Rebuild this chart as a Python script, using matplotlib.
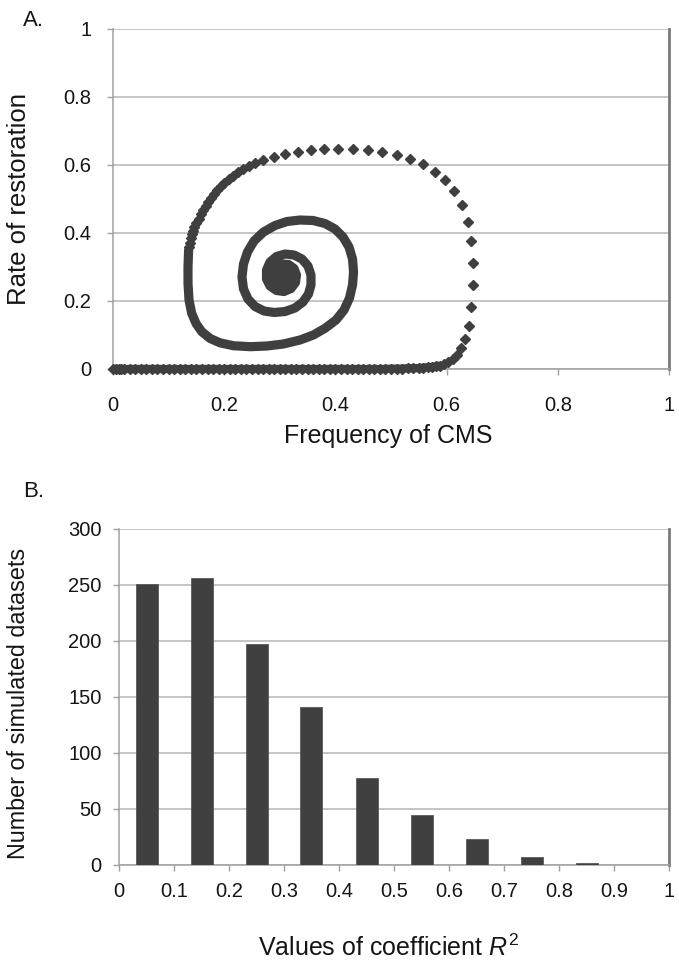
import matplotlib
matplotlib.use("Agg")
import matplotlib.pyplot as plt

plt.rcParams['font.family'] = ['Liberation Sans', 'DejaVu Sans']
plt.rcParams['mathtext.fontset'] = 'custom'
plt.rcParams['mathtext.rm'] = 'Liberation Sans'
plt.rcParams['mathtext.it'] = 'Liberation Sans:italic'

# ---------------- Panel A data (trajectory) ----------------
# dense start along the x axis
bottom_x = [0.000, 0.005, 0.010, 0.015, 0.020, 0.030, 0.040, 0.050, 0.060, 0.070,
            0.080, 0.090, 0.100, 0.110, 0.120, 0.130, 0.140, 0.150, 0.160, 0.170,
            0.180, 0.190, 0.200, 0.210, 0.220, 0.230, 0.240, 0.250, 0.260, 0.270,
            0.280, 0.290, 0.300, 0.310, 0.320, 0.330, 0.340, 0.350, 0.360, 0.370,
            0.380, 0.390, 0.400, 0.410, 0.420, 0.430, 0.440, 0.450, 0.460, 0.470,
            0.480, 0.490, 0.500, 0.510, 0.520, 0.530, 0.540, 0.550, 0.558, 0.566,
            0.574, 0.581, 0.588]
bottom_y = [0.000, 0.000, 0.000, 0.000, 0.000, 0.000, 0.000, 0.000, 0.000, 0.000,
            0.000, 0.000, 0.000, 0.000, 0.000, 0.000, 0.000, 0.000, 0.000, 0.000,
            0.000, 0.000, 0.000, 0.000, 0.000, 0.000, 0.000, 0.000, 0.000, 0.000,
            0.000, 0.000, 0.000, 0.000, 0.000, 0.000, 0.000, 0.000, 0.000, 0.000,
            0.000, 0.000, 0.000, 0.000, 0.000, 0.000, 0.000, 0.000, 0.000, 0.000,
            0.000, 0.000, 0.001, 0.001, 0.001, 0.002, 0.002, 0.003, 0.004, 0.005,
            0.006, 0.008, 0.010]

# sparse outer arc
arc_x = [0.595, 0.6025, 0.611, 0.618, 0.625, 0.633, 0.640, 0.644, 0.647, 0.647,
         0.644, 0.639, 0.627, 0.614, 0.597, 0.579, 0.558, 0.534, 0.510, 0.484,
         0.459, 0.432, 0.405, 0.380, 0.356, 0.332, 0.310, 0.290, 0.270, 0.255,
         0.245, 0.234, 0.225, 0.216, 0.209, 0.200, 0.194, 0.187, 0.182, 0.176,
         0.171, 0.167, 0.162, 0.158, 0.154, 0.149, 0.146, 0.1435, 0.1415, 0.1395,
         0.138, 0.137]
arc_y = [0.015, 0.021, 0.0285, 0.041, 0.061, 0.088, 0.127, 0.182, 0.247, 0.313,
         0.377, 0.433, 0.482, 0.524, 0.556, 0.580, 0.603, 0.617, 0.629, 0.638,
         0.643, 0.647, 0.648, 0.647, 0.643, 0.638, 0.632, 0.623, 0.614, 0.606,
         0.597, 0.589, 0.579, 0.569, 0.559, 0.548, 0.537, 0.527, 0.515, 0.504,
         0.492, 0.480, 0.468, 0.455, 0.442, 0.430, 0.419, 0.407, 0.396, 0.384,
         0.372, 0.360]

# dense inner spiral
spiral_x = [0.136, 0.1349, 0.1349, 0.1367, 0.1415, 0.1493, 0.1595, 0.1745, 0.1924, 0.2164,
            0.2464, 0.2764, 0.3063, 0.3363, 0.3603, 0.3813, 0.4011, 0.4155, 0.4254, 0.4308,
            0.4326, 0.4308, 0.4245, 0.4137, 0.3993, 0.3813, 0.3597, 0.3363, 0.3129, 0.2914,
            0.2707, 0.2536, 0.2419, 0.2347, 0.2320, 0.2347, 0.2428, 0.2554, 0.2716, 0.2896,
            0.3094, 0.3273, 0.3417, 0.3516, 0.3561, 0.3561, 0.3507, 0.3399, 0.3255, 0.3094,
            0.2941, 0.2824, 0.2761, 0.2761, 0.2824, 0.2941, 0.3076, 0.3201, 0.3282, 0.3300,
            0.3255, 0.3157, 0.3040, 0.2941, 0.2896, 0.2923, 0.3022, 0.3129, 0.3174, 0.3129,
            0.3031, 0.2977, 0.3040, 0.3094]
spiral_y = [0.350, 0.301, 0.252, 0.203, 0.164, 0.134, 0.110, 0.090, 0.077, 0.0685,
            0.0656, 0.0676, 0.0735, 0.0853, 0.1000, 0.1197, 0.1441, 0.1735, 0.2088, 0.2471,
            0.2853, 0.3235, 0.3588, 0.3882, 0.4118, 0.4279, 0.4368, 0.4382, 0.4338, 0.4221,
            0.4029, 0.3765, 0.3441, 0.3088, 0.2706, 0.2353, 0.2059, 0.1838, 0.1706, 0.1662,
            0.1691, 0.1794, 0.1971, 0.2206, 0.2471, 0.2765, 0.3029, 0.3235, 0.3353, 0.3382,
            0.3309, 0.3147, 0.2912, 0.2647, 0.2441, 0.2309, 0.2279, 0.2368, 0.2544, 0.2765,
            0.2956, 0.3074, 0.3088, 0.2985, 0.2809, 0.2618, 0.2515, 0.2559, 0.2721, 0.2882,
            0.2912, 0.2765, 0.2647, 0.2735]

ticks_a = [0, 0.2, 0.4, 0.6, 0.8, 1]
ticklabels_a = ['0', '0.2', '0.4', '0.6', '0.8', '1']

# ---------------- Panel B data ----------------
r2_bins = [0.05, 0.15, 0.25, 0.35, 0.45, 0.55, 0.65, 0.75, 0.85, 0.95]
counts = [251, 256, 197, 141, 78, 45, 23, 7, 1.5, 0]
xticks_b = [0, 0.1, 0.2, 0.3, 0.4, 0.5, 0.6, 0.7, 0.8, 0.9, 1]
xticklabels_b = ['0', '0.1', '0.2', '0.3', '0.4', '0.5', '0.6', '0.7', '0.8', '0.9', '1']
yticks_b = [0, 50, 100, 150, 200, 250, 300]

MARK = '#3f3f3f'
GRID = '#b5b5b5'
AX = '#a0a0a0'
RIGHT = '#7a7a7a'
TXT = '#151515'

fig = plt.figure(figsize=(6.79, 9.6), dpi=100)

def style(ax):
    ax.spines['top'].set_visible(False)
    ax.spines['left'].set_color(AX)
    ax.spines['bottom'].set_color(AX)
    ax.spines['left'].set_linewidth(1.1)
    ax.spines['bottom'].set_linewidth(1.1)
    ax.spines['right'].set_color(RIGHT)
    ax.spines['right'].set_linewidth(2.0)
    ax.yaxis.grid(True, color=GRID, linewidth=1.1)
    ax.set_axisbelow(True)
    ax.tick_params(axis='both', direction='out', length=4.5, width=1.0, color=AX,
                   labelsize=14.5, labelcolor=TXT)

# ---- Panel A ----
ax1 = fig.add_axes([113/679, 1-369/960, 556/679, 340/960])
style(ax1)
ax1.plot(bottom_x, bottom_y, '-', color=MARK, lw=6.0, marker='D', ms=5.0,
         mec=MARK, mfc=MARK, solid_capstyle='butt', clip_on=False, zorder=3)
ax1.plot(arc_x, arc_y, linestyle='none', marker='D', ms=5.0, color=MARK, zorder=3)
ax1.plot(spiral_x, spiral_y, '-', color=MARK, lw=6.6, solid_joinstyle='round',
         solid_capstyle='round', zorder=3)
ax1.set_xlim(0, 1)
ax1.set_ylim(0, 1)
ax1.set_xticks(ticks_a)
ax1.set_xticklabels(ticklabels_a)
ax1.set_yticks(ticks_a)
ax1.set_yticklabels(ticklabels_a)
ax1.tick_params(axis='x', pad=15)
ax1.tick_params(axis='y', pad=11)
ax1.set_xlabel('Frequency of CMS', fontsize=18, color=TXT, va='top')
ax1.xaxis.set_label_coords(0.495, -0.162)
ax1.set_ylabel('Rate of restoration', fontsize=18.5, color=TXT, va='bottom')
ax1.yaxis.set_label_coords(-0.147, 0.5)

# ---- Panel B ----
ax2 = fig.add_axes([119/679, 1-865/960, 550/679, 336/960])
style(ax2)
ax2.bar(r2_bins, counts, width=0.04, color='#404040', edgecolor='#5a5a5a',
        linewidth=0.6, zorder=3)
ax2.set_xlim(0, 1)
ax2.set_ylim(0, 300)
ax2.set_xticks(xticks_b)
ax2.set_xticklabels(xticklabels_b)
ax2.set_yticks(yticks_b)
ax2.tick_params(axis='x', pad=8)
ax2.tick_params(axis='y', pad=8)
ax2.set_xlabel('Values of coefficient $R^2$', fontsize=18, color=TXT, va='top')
ax2.xaxis.set_label_coords(0.49, -0.207)
ax2.set_ylabel('Number of simulated datasets', fontsize=16.8, color=TXT, va='bottom')
ax2.yaxis.set_label_coords(-0.162, 0.48)

fig.text(23/679, 1-21/960, 'A.', fontsize=16, va='center', ha='left', color=TXT)
fig.text(23/679, 1-492/960, 'B.', fontsize=16, va='center', ha='left', color=TXT)

fig.savefig('out.png', dpi=100)
